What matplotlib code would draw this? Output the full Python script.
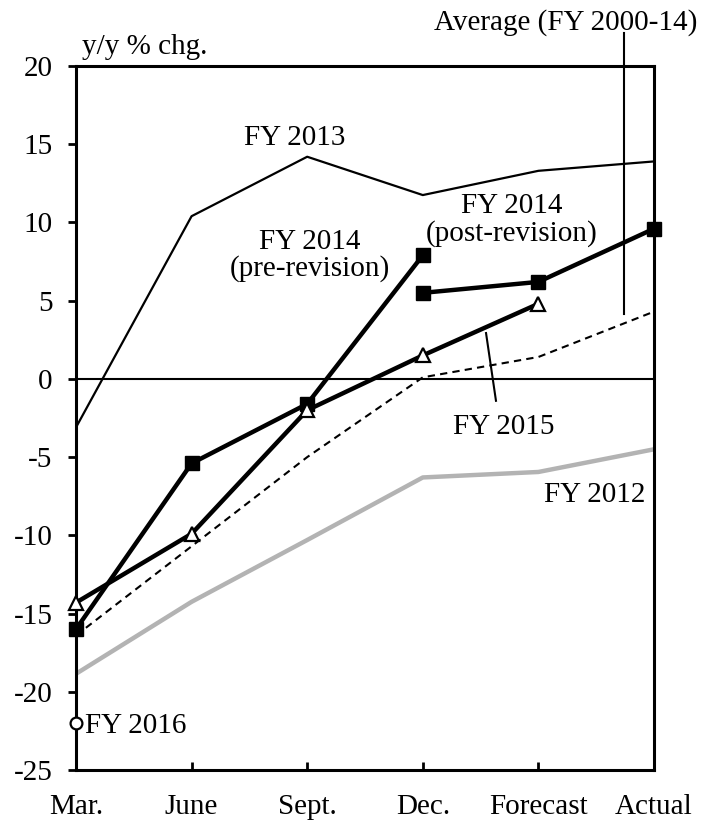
import matplotlib
matplotlib.use("Agg")
import matplotlib.pyplot as plt

plt.rcParams['font.family'] = ['Liberation Serif', 'DejaVu Serif']

categories = ["Mar.", "June", "Sept.", "Dec.", "Forecast", "Actual"]
fy2013 = [-3.1, 10.4, 14.2, 11.75, 13.3, 13.9]
fy2014_pre = [-16.0, -5.4, -1.6, 7.9]
fy2014_post = [5.5, 6.2, 9.6]
fy2015 = [-14.3, -9.9, -2.0, 1.5, 4.8]
average = [-16.4, -10.7, -5.0, 0.1, 1.4, 4.3]
fy2012 = [-18.85, -14.25, -10.3, -6.3, -5.95, -4.5]
fy2016 = [-22.0]
yticks = [20, 15, 10, 5, 0, -5, -10, -15, -20, -25]

x = list(range(len(categories)))

fig = plt.figure(figsize=(7.18, 8.21), dpi=100)
ax = fig.add_axes([76/718, 1-770/821, (654-76)/718, (770-66)/821])

ax.axhline(0, color='black', lw=1.5, zorder=2)
ax.plot(x, fy2012, color='#b3b3b3', lw=3.2, zorder=2, solid_capstyle='butt')
ax.plot(x, average, color='black', lw=1.5, ls=(0, (3.5, 2.5)), zorder=3)
ax.plot(x, fy2013, color='black', lw=1.6, zorder=3)
ax.plot(x[:4], fy2014_pre, color='black', lw=3.2, marker='s', ms=10.5, zorder=5,
        clip_on=False)
ax.plot(x[3:], fy2014_post, color='black', lw=3.2, marker='s', ms=10.5, zorder=5,
        clip_on=False)
ax.plot(x[:5], fy2015, color='black', lw=3.2, marker='^', ms=10,
        mfc='white', mec='black', mew=1.6, zorder=6, clip_on=False)
ax.plot(x[:1], fy2016, ls='none', marker='o', ms=8.5, mfc='white',
        mec='black', mew=1.6, zorder=7, clip_on=False)

# leader lines
ax.plot([4.74, 4.74], [4.14, 22.1], color='black', lw=1.5, clip_on=False, zorder=4)
ax.plot([3.547, 3.633], [2.93, -1.4], color='black', lw=1.5, zorder=4)

fs = 21
ax.text(1.89, 15.4, "FY 2013", ha='center', va='center', fontsize=fs)
ax.text(2.02, 7.9, "FY 2014\n(pre-revision)", ha='center', va='center',
        fontsize=fs, linespacing=1.02)
ax.text(3.77, 10.15, "FY 2014\n(post-revision)", ha='center', va='center',
        fontsize=fs, linespacing=1.02)
ax.text(3.70, -3.1, "FY 2015", ha='center', va='center', fontsize=fs)
ax.text(4.49, -7.4, "FY 2012", ha='center', va='center', fontsize=fs)
ax.text(0.08, -22.2, "FY 2016", ha='left', va='center', fontsize=fs)
ax.text(0.05, 21.2, "y/y % chg.", ha='left', va='center', fontsize=fs, clip_on=False)
ax.text(4.24, 22.8, "Average (FY 2000-14)", ha='center', va='center', fontsize=fs,
        clip_on=False)

ax.set_xlim(0, 5)
ax.set_ylim(-25, 20)
ax.set_xticks(x)
ax.set_xticklabels(categories, fontsize=fs)
ax.set_yticks(yticks)
ax.set_yticklabels([str(v) for v in yticks], fontsize=fs)
ax.tick_params(axis='x', direction='in', length=6, width=2, pad=17)
ax.tick_params(axis='y', direction='out', length=6, width=2, pad=11)
for s in ax.spines.values():
    s.set_linewidth(2.2)

fig.savefig("out.png", dpi=100)
